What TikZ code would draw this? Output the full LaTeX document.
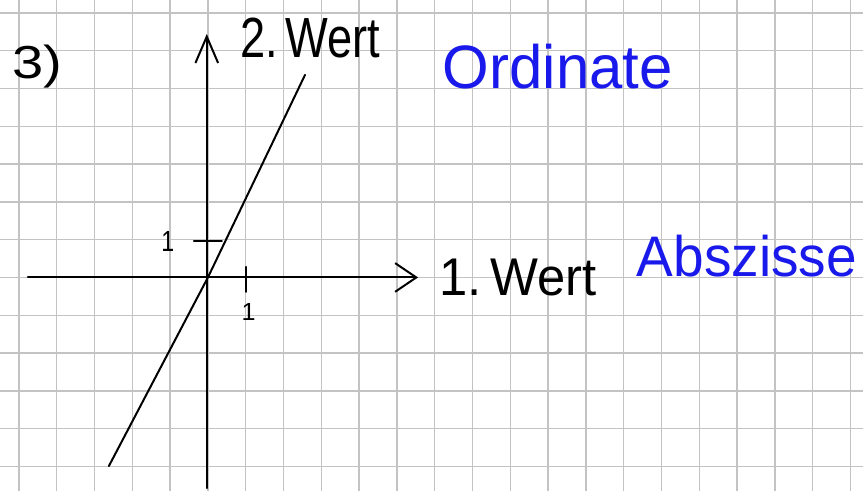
\documentclass[tikz,border=0pt]{standalone}
\usepackage{fontspec}
\setmainfont{Liberation Sans}
\usepackage{tikz}
\usetikzlibrary{arrows.meta}
\definecolor{inkblue}{RGB}{25,25,235}
\definecolor{gridgray}{RGB}{195,195,195}
\newcommand\hw[3]{\resizebox*{#1}{#2}{#3}}

\begin{document}
\begin{tikzpicture}[line width=1.5pt,line cap=round,
  gridline/.style={gridgray,line width=1.1pt,line cap=butt},
  lbl/.style={inner sep=0pt},
  blue lbl/.style={inner sep=0pt,text=inkblue}]
  \fill[white] (-5.5,-5.65) rectangle (17.33,7.34);
  \useasboundingbox (-5.5,-5.65) rectangle (17.33,7.34);
  % paper grid
  \foreach \x in {-5,...,17}
    \draw[gridline] (\x,-5.65) -- (\x,7.34);
  \foreach \y in {-5,...,7}
    \draw[gridline] (-5.5,\y) -- (17.33,\y);
  % axes
  \coordinate (ybot) at (-0.03,-5.57);
  \coordinate (ytop) at (-0.03,6.44);
  \coordinate (xleft) at (-4.76,0);
  \coordinate (xright) at (5.56,0);
  \draw[-{Straight Barb[length=7mm,width=6mm]}] (ybot) -- (ytop);
  \draw[-{Straight Barb[length=5.6mm,width=7.6mm]}] (xleft) -- (xright);
  % ticks
  \draw (1,0.28) -- (1,-0.38);
  \draw (-0.37,0.97) -- (0.37,0.97);
  \node[lbl] (xone) at (1.08,-0.91) {\hw{0.37cm}{0.45cm}{1}};
  \node[lbl] (yone) at (-1.06,0.94) {\hw{0.34cm}{0.53cm}{1}};
  % graph
  \draw (-2.62,-4.99) -- (0,0) -- (2.57,5.36);
  % texts
  \node[lbl] (task) at (-4.52,5.57) {\hw{1.32cm}{1.14cm}{3)}};
  \node[lbl] (ylab) at (2.7,6.34) {\hw{3.7cm}{1.06cm}{2.\,Wert}};
  \node[lbl] (xlab) at (8.2,0) {\hw{4.15cm}{0.98cm}{1.\,Wert}};
  \node[blue lbl] (ordinate) at (9.26,5.57) {\hw{6.08cm}{1.19cm}{Ordinate}};
  \node[blue lbl] (abszisse) at (14.26,0.57) {\hw{5.82cm}{1.11cm}{Abszisse}};
\end{tikzpicture}
\end{document}
